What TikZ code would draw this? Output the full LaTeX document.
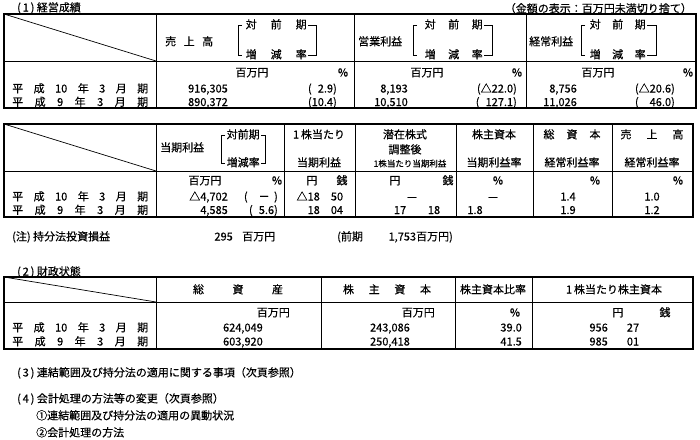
\documentclass[tikz,border=0pt]{standalone}
\usepackage{fontspec}
\setmainfont{Noto Sans CJK JP}[FakeBold=0.4]
\usetikzlibrary{positioning}
\newcommand\spreadtext[2]{\makebox[#1][s]{#2}}

\begin{document}
\begin{tikzpicture}[x=1pt, y=-1pt,
				every node/.style={inner sep=0pt, text height=8.5pt, text depth=1.5pt, font=\fontsize{11}{13}\selectfont},
				FrameLine/.style={line width=1.1pt},
				GridLine/.style={line width=0.7pt},
				BracketLine/.style={line width=0.6pt},
				LeftText/.style={anchor=west},
				NumText/.style={anchor=east},
				BrkText/.style={anchor=west, inner xsep=1.5pt},
				SmallText/.style={font=\fontsize{8.5}{10}\selectfont, text height=7pt}]

			\useasboundingbox (0,0) rectangle (700,439);

			\node[LeftText] (SecA) at (17,8) {(\,1\,)\ 経営成績};
			\node[NumText] (AmtNote) at (692,9) {（金額の表示：百万円未満切り捨て）};

			\coordinate (TA1) at (4,14);
			\coordinate (TA2) at (696,108);
			\draw[FrameLine] (TA1) rectangle (TA2);
			\draw[GridLine] (4,61) -- (696,61);
			\foreach \cx in {156,354,526} \draw[GridLine] (\cx,14) -- (\cx,108);
			\draw[GridLine] (TA1) -- (156,61);

			\node[LeftText] (SalesHd) at (165,42) {\spreadtext{48pt}{売\hfil 上\hfil 高}};
			\node[LeftText] (OpHd) at (358,42) {営業利益};
			\node[LeftText] (OrdHd) at (529,42) {経常利益};
			\foreach \nm/\lx/\tx/\w/\rx in {Sa/238/244/61/316, Op/413/423/58/492, Od/581/588/56/656} {
				\node[BrkText] (top\nm) at (\tx,25) {\spreadtext{\w pt}{対\hfil 前\hfil 期}};
				\node[BrkText] (bot\nm) at (\tx,55) {\spreadtext{\w pt}{増\hfil 減\hfil 率}};
				\draw[BracketLine] (\lx+4,25) -- (\lx,25) -- (\lx,55) -- (\lx+4,55);
				\draw[BracketLine] (top\nm.east) -- (\rx,25) -- (\rx,55) -- (bot\nm.east);
			}

			\node (SaUnit) at (252,73) {百万円};
			\node (SaPct) at (343,73) {\%};
			\node (OpUnit) at (427,73) {百万円};
			\node (OpPct) at (517,73) {\%};
			\node (OdUnit) at (598,73) {百万円};
			\node (OdPct) at (688,73) {\%};

			\node[NumText] (SaA) at (228,89) {916,305};
			\node[NumText] (SaRA) at (337,89) {(\hphantom{1}2.9)};
			\node[NumText] (OpA) at (408,89) {8,193};
			\node[NumText] (OpRA) at (517,89) {(△22.0)};
			\node[NumText] (OdA) at (577,89) {8,756};
			\node[NumText] (OdRA) at (675,89) {(△20.6)};

			\node[NumText] (SaB) at (228,102.5) {890,372};
			\node[NumText] (SaRB) at (337,102.5) {(10.4)};
			\node[NumText] (OpB) at (408,102.5) {10,510};
			\node[NumText] (OpRB) at (517,102.5) {(\hphantom{1}127.1)};
			\node[NumText] (OdB) at (577,102.5) {11,026};
			\node[NumText] (OdRB) at (675,102.5) {(\hphantom{△}46.0)};

			\foreach \yr/\ry/\nm in {10/89/LabAA, 9/102.5/LabAB, 10/197/LabBA, 9/210.5/LabBB, 10/328/LabCA, 9/342/LabCB}
				\node[LeftText] (\nm) at (12,\ry) {\spreadtext{136pt}{平\hfil 成\hfil \yr\hfil 年\hfil 3\hfil 月\hfil 期}};

			\coordinate (TB1) at (4,124);
			\coordinate (TB2) at (693,217);
			\draw[FrameLine] (TB1) rectangle (TB2);
			\draw[GridLine] (4,171) -- (693,171);
			\foreach \cx in {156,284,355,456,533,612} \draw[GridLine] (\cx,124) -- (\cx,217);
			\draw[GridLine] (TB1) -- (156,171);

			\node[LeftText] (NetHd) at (160,148) {当期利益};
			\node[BrkText] (topNet) at (225,135) {対前期};
			\node[BrkText] (botNet) at (225,163) {増減率};
			\draw[BracketLine] (225,135) -- (221,135) -- (221,163) -- (225,163);
			\draw[BracketLine] (topNet.east) -- (265,135) -- (265,163) -- (botNet.east);

			\node (EpsHdA) at (319,135) {1\,株当たり};
			\node (EpsHdB) at (319,163) {当期利益};
			\node (DilHdA) at (405,135) {潜在株式};
			\node (DilHdB) at (405,150) {調整後};
			\node[SmallText] (DilHdC) at (410,164) {1株当たり当期利益};
			\node (RoeHdA) at (494,135) {株主資本};
			\node (RoeHdB) at (494,163) {当期利益率};
			\node (RoaHdA) at (572,135) {\spreadtext{57pt}{総\hfil 資\hfil 本}};
			\node (RoaHdB) at (572,163) {経常利益率};
			\node (MarHdA) at (652,135) {\spreadtext{63pt}{売\hfil 上\hfil 高}};
			\node (MarHdB) at (652,163) {経常利益率};

			\node (NetUnit) at (205,181) {百万円};
			\node (NetPct) at (277,181) {\%};
			\node (EpsYen) at (312,181) {円};
			\node (EpsSen) at (342,181) {銭};
			\node (DilYen) at (395,181) {円};
			\node (DilSen) at (448,181) {銭};
			\node (RoePct) at (498,181) {\%};
			\node (RoaPct) at (595,181) {\%};
			\node (MarPct) at (678,181) {\%};

			\node[NumText] (NetA) at (228,197) {△4,702};
			\node[NumText] (NetRA) at (278,197) {(\hspace{1em}－\hspace{0.4em})};
			\node[NumText] (EpsYA) at (320,197) {△18};
			\node (EpsSA) at (337,197) {50};
			\node (DilA) at (412,197) {—};
			\node (RoeA) at (493,197) {—};
			\node (RoaA) at (568,197) {1.4};
			\node (MarA) at (652,197) {1.0};

			\node[NumText] (NetB) at (228,210.5) {4,585};
			\node[NumText] (NetRB) at (278,210.5) {(\hphantom{1}5.6)};
			\node[NumText] (EpsYB) at (320,210.5) {18};
			\node (EpsSB) at (337,210.5) {04};
			\node (DilYB) at (400,210.5) {17};
			\node (DilSB) at (434,210.5) {18};
			\node (RoeB) at (475,210.5) {1.8};
			\node (RoaB) at (568,210.5) {1.9};
			\node (MarB) at (652,210.5) {1.2};

			\node[LeftText] (EqNote) at (12,237) {(注)\ 持分法投資損益};
			\node[NumText] (EqNoteVal) at (233,237) {295};
			\node[LeftText] (EqNoteUnit) at (242,237) {百万円};
			\node[LeftText] (EqNotePrev) at (337,237) {(前期};
			\node[NumText] (EqNotePrevVal) at (453,237) {1,753百万円)};

			\node[LeftText] (SecB) at (17,272) {(\,2\,)\ 財政状態};

			\coordinate (TC1) at (4,277);
			\coordinate (TC2) at (693,349);
			\draw[FrameLine] (TC1) rectangle (TC2);
			\draw[GridLine] (4,302) -- (693,302);
			\foreach \cx in {156,321,455,532} \draw[GridLine] (\cx,277) -- (\cx,349);
			\draw[GridLine] (TC1) -- (156,302);

			\node (AssetHd) at (238,290) {\spreadtext{90pt}{総\hfil 資\hfil 産}};
			\node (EqHd) at (387,290) {\spreadtext{88pt}{株\hfil 主\hfil 資\hfil 本}};
			\node (EqRatioHd) at (493,290) {株主資本比率};
			\node (BpsHd) at (614,290) {1\,株当たり株主資本};

			\node[NumText] (AssetUnit) at (290,313) {百万円};
			\node[NumText] (EqUnit) at (435,313) {百万円};
			\node (EqRatioPct) at (515,313) {\%};
			\node (BpsYen) at (618,313) {円};
			\node (BpsSen) at (665,313) {銭};

			\node[NumText] (AssetA) at (263,328) {624,049};
			\node[NumText] (EqA) at (410,328) {243,086};
			\node[NumText] (EqRatioA) at (522,328) {39.0};
			\node[NumText] (BpsYA) at (608,328) {956};
			\node (BpsSA) at (633,328) {27};

			\node[NumText] (AssetB) at (263,342) {603,920};
			\node[NumText] (EqB) at (410,342) {250,418};
			\node[NumText] (EqRatioB) at (522,342) {41.5};
			\node[NumText] (BpsYB) at (608,342) {985};
			\node (BpsSB) at (633,342) {01};

			\node[LeftText] (SecC) at (17,373) {(\,3\,)\ 連結範囲及び持分法の適用に関する事項（次頁参照）};
			\node[LeftText] (SecD) at (17,399) {(\,4\,)\ 会計処理の方法等の変更（次頁参照）};
			\node[LeftText] (SecDa) at (36,416) {①連結範囲及び持分法の適用の異動状況};
			\node[LeftText] (SecDb) at (36,433) {②会計処理の方法};
		\end{tikzpicture}
\end{document}
